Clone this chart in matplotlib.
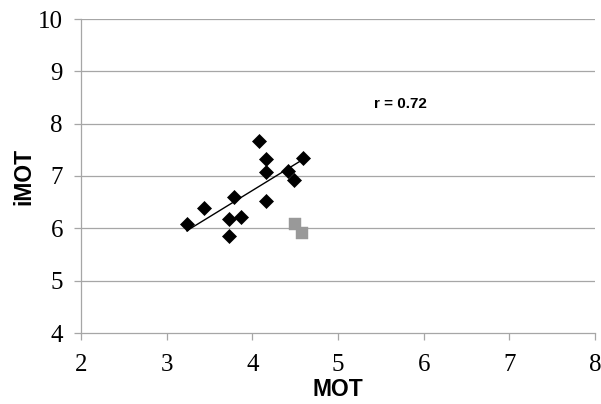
import numpy as np
import matplotlib
matplotlib.use("Agg")
import matplotlib.pyplot as plt

# Data
mot_black = [3.235, 3.43, 3.725, 3.725, 3.79, 3.87, 4.075, 4.165, 4.165, 4.165, 4.42, 4.49, 4.595]
imot_black = [6.08, 6.38, 6.17, 5.85, 6.59, 6.22, 7.67, 7.32, 7.08, 6.52, 7.10, 6.92, 7.34]
mot_gray = [4.50, 4.585]
imot_gray = [6.09, 5.92]
x_ticks = [2, 3, 4, 5, 6, 7, 8]
y_ticks = [4, 5, 6, 7, 8, 9, 10]
r_label = "r = 0.72"

fig = plt.figure(figsize=(6.01, 4.04), dpi=100)
ax = fig.add_axes([81/601, 1-333/404, (595-81)/601, (333-19)/404])

grid_c = "#a6a6a6"
for y in y_ticks[1:]:
    ax.axhline(y, color=grid_c, lw=0.9, zorder=0)

# trend line over black points
coef = np.polyfit(mot_black, imot_black, 1)
xs = np.array([min(mot_black), max(mot_black)])
ax.plot(xs, np.polyval(coef, xs), color="black", lw=1.0, zorder=2)

ax.plot(mot_black, imot_black, linestyle="none", marker="D", ms=7,
        mfc="black", mec="black", mew=0.5, zorder=3)
ax.plot(mot_gray, imot_gray, linestyle="none", marker="s", ms=8.3,
        mfc="#999999", mec="#999999", mew=0.3, zorder=3)

ax.text(5.73, 8.38, r_label, fontsize=11, fontweight="bold",
        family="Liberation Sans", ha="center", va="center")

ax.set_xlim(2, 8)
ax.set_ylim(4, 10)
ax.set_xticks(x_ticks)
ax.set_yticks(y_ticks)
ax.set_xticklabels([str(v) for v in x_ticks], family="Liberation Serif", fontsize=18)
ax.set_yticklabels([str(v) for v in y_ticks], family="Liberation Serif", fontsize=18)
ax.tick_params(axis="both", direction="out", length=5, width=0.9, color=grid_c)
ax.tick_params(axis="x", pad=10)
ax.tick_params(axis="y", pad=8)

for s in ["top", "right"]:
    ax.spines[s].set_visible(False)
for s in ["left", "bottom"]:
    ax.spines[s].set_color(grid_c)
    ax.spines[s].set_linewidth(0.9)

ax.set_xlabel("MOT", family="Liberation Sans", fontweight="bold", fontsize=16.5, va="center")
ax.xaxis.set_label_coords(0.5, -(390 - 333) / 314)
ax.set_ylabel("iMOT", family="Liberation Sans", fontweight="bold", fontsize=16.5, labelpad=2)

fig.savefig("out.png", dpi=100)
